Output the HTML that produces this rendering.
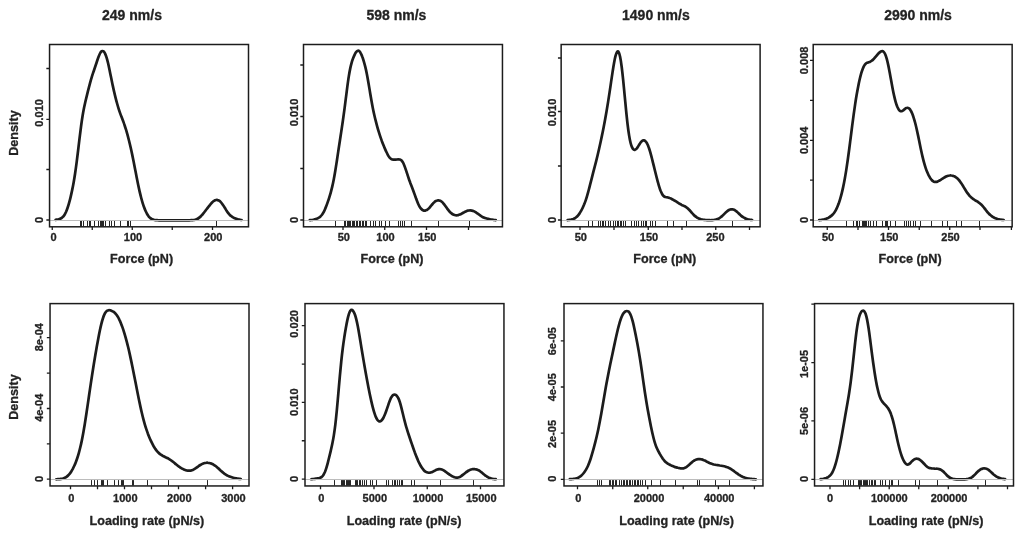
<!DOCTYPE html>
<html lang="en">
<head>
<meta charset="utf-8">
<title>Density of rupture force and loading rate at four retraction speeds</title>
<style>
  html, body { margin: 0; padding: 0; background: #ffffff; }
  body { width: 1024px; height: 539px; overflow: hidden; font-family: "Liberation Sans", sans-serif; }
  svg { display: block; will-change: transform; filter: grayscale(1) blur(0.35px); }
  text { font-family: "Liberation Sans", sans-serif; font-weight: bold; fill: #232323; stroke: #232323; stroke-width: 0.3px; stroke-linejoin: round; }
  .ti { font-size: 14px; }
  .lb { font-size: 12.6px; }
  .tk { font-size: 11px; }
</style>
</head>
<body>
<svg width="1024" height="539" viewBox="0 0 1024 539">
<rect x="0" y="0" width="1024" height="539" fill="#ffffff"/>
<g><path d="M80.5,221.00V226.40M81.5,221.00V226.40M83.5,221.00V226.40M87.5,221.00V226.40M89.5,221.00V226.40M90.5,221.00V226.40M94.5,221.00V226.40M98.5,221.00V226.40M100.5,221.00V226.40M101.5,221.00V226.40M102.5,221.00V226.40M103.5,221.00V226.40M105.5,221.00V226.40M109.5,221.00V226.40M111.5,221.00V226.40M114.5,221.00V226.40M120.5,221.00V226.40M127.5,221.00V226.40M128.5,221.00V226.40M130.5,221.00V226.40M216.5,221.00V226.40" stroke="#262626" stroke-width="1" fill="none"/>
<path d="M55.6,219.9C55.9,219.8 56.6,219.7 57.1,219.6C57.6,219.5 58.1,219.4 58.6,219.3C59.1,219.1 59.6,219.0 60.1,218.8C60.6,218.6 61.1,218.3 61.6,218.0C62.1,217.6 62.6,217.3 63.1,216.7C63.6,216.2 64.1,215.5 64.6,214.7C65.1,213.9 65.6,212.9 66.1,211.8C66.6,210.6 67.1,209.3 67.6,207.8C68.1,206.3 68.6,204.7 69.1,202.9C69.6,201.1 70.1,199.2 70.6,197.1C71.1,195.0 71.6,192.8 72.1,190.4C72.6,188.0 73.1,185.5 73.6,182.7C74.1,179.9 74.6,176.9 75.1,173.5C75.6,170.2 76.1,166.6 76.6,162.7C77.1,158.9 77.6,154.7 78.1,150.5C78.6,146.4 79.1,142.0 79.6,137.9C80.1,133.8 80.6,129.7 81.1,126.0C81.6,122.3 82.1,118.9 82.6,115.8C83.1,112.7 83.6,110.1 84.1,107.6C84.6,105.1 85.1,102.9 85.6,100.7C86.1,98.6 86.6,96.6 87.1,94.6C87.6,92.5 88.1,90.5 88.6,88.6C89.1,86.6 89.6,84.7 90.1,82.8C90.6,81.0 91.1,79.2 91.6,77.6C92.1,75.9 92.6,74.4 93.1,72.9C93.6,71.4 94.1,70.0 94.6,68.5C95.1,67.0 95.6,65.5 96.1,64.0C96.6,62.5 97.1,60.9 97.6,59.5C98.1,58.0 98.6,56.6 99.1,55.4C99.6,54.2 100.1,53.2 100.6,52.4C101.1,51.7 101.6,51.2 102.1,51.1C102.6,50.9 103.1,51.0 103.6,51.4C104.1,51.9 104.6,52.6 105.1,53.6C105.6,54.7 106.1,56.0 106.6,57.6C107.1,59.2 107.6,61.2 108.1,63.3C108.6,65.4 109.1,67.8 109.6,70.2C110.1,72.6 110.6,75.2 111.1,77.6C111.6,80.0 112.1,82.5 112.6,84.9C113.1,87.2 113.6,89.5 114.1,91.6C114.6,93.8 115.1,95.8 115.6,97.8C116.1,99.8 116.6,101.7 117.1,103.5C117.6,105.3 118.1,107.0 118.6,108.6C119.1,110.2 119.6,111.7 120.1,113.1C120.6,114.5 121.1,115.8 121.6,117.1C122.1,118.4 122.6,119.7 123.1,121.0C123.6,122.4 124.1,123.7 124.6,125.2C125.1,126.7 125.6,128.3 126.1,129.9C126.6,131.6 127.1,133.4 127.6,135.2C128.1,137.1 128.6,139.0 129.1,141.0C129.6,143.0 130.1,145.1 130.6,147.3C131.1,149.5 131.6,151.7 132.1,154.1C132.6,156.5 133.1,158.9 133.6,161.4C134.1,164.0 134.6,166.6 135.1,169.2C135.6,171.8 136.1,174.4 136.6,177.0C137.1,179.5 137.6,182.1 138.1,184.5C138.6,186.9 139.1,189.2 139.6,191.4C140.1,193.5 140.6,195.6 141.1,197.5C141.6,199.4 142.1,201.2 142.6,202.8C143.1,204.4 143.6,205.9 144.1,207.3C144.6,208.7 145.1,209.9 145.6,211.0C146.1,212.1 146.6,213.1 147.1,214.0C147.6,214.9 148.1,215.6 148.6,216.3C149.1,216.9 149.6,217.4 150.1,217.9C150.6,218.3 151.1,218.7 151.6,218.9C152.1,219.2 152.6,219.4 153.1,219.6C153.6,219.8 154.1,219.9 154.6,220.0C155.1,220.1 155.6,220.1 156.1,220.2C156.6,220.2 157.1,220.2 157.6,220.2C158.1,220.3 158.6,220.3 159.1,220.3C159.6,220.3 160.1,220.3 160.6,220.3C161.1,220.3 161.6,220.3 162.1,220.3C162.6,220.3 163.1,220.3 163.6,220.3C164.1,220.3 164.6,220.3 165.1,220.3C165.6,220.3 166.1,220.3 166.6,220.3C167.1,220.3 167.6,220.3 168.1,220.3C168.6,220.3 169.1,220.3 169.6,220.3C170.1,220.3 170.6,220.3 171.1,220.3C171.6,220.3 172.1,220.3 172.6,220.3C173.1,220.3 173.6,220.3 174.1,220.3C174.6,220.3 175.1,220.3 175.6,220.3C176.1,220.3 176.6,220.3 177.1,220.3C177.6,220.3 178.1,220.3 178.6,220.3C179.1,220.3 179.6,220.3 180.1,220.3C180.6,220.3 181.1,220.3 181.6,220.3C182.1,220.3 182.6,220.3 183.1,220.3C183.6,220.3 184.1,220.3 184.6,220.3C185.1,220.3 185.6,220.3 186.1,220.3C186.6,220.3 187.1,220.3 187.6,220.3C188.1,220.3 188.6,220.3 189.1,220.3C189.6,220.3 190.1,220.3 190.6,220.2C191.1,220.2 191.6,220.2 192.1,220.2C192.6,220.1 193.1,220.1 193.6,220.0C194.1,220.0 194.6,219.9 195.1,219.7C195.6,219.6 196.1,219.5 196.6,219.2C197.1,219.0 197.6,218.8 198.1,218.5C198.6,218.2 199.1,217.8 199.6,217.4C200.1,217.0 200.6,216.5 201.1,216.0C201.6,215.4 202.1,214.9 202.6,214.3C203.1,213.7 203.6,213.1 204.1,212.5C204.6,211.8 205.1,211.2 205.6,210.5C206.1,209.9 206.6,209.2 207.1,208.6C207.6,208.0 208.1,207.3 208.6,206.7C209.1,206.0 209.6,205.4 210.1,204.8C210.6,204.1 211.1,203.5 211.6,203.0C212.1,202.5 212.6,201.9 213.1,201.5C213.6,201.1 214.1,200.7 214.6,200.5C215.1,200.2 215.6,200.1 216.1,200.0C216.6,199.9 217.1,199.9 217.6,200.1C218.1,200.2 218.6,200.4 219.1,200.7C219.6,201.0 220.1,201.4 220.6,201.9C221.1,202.4 221.6,203.0 222.1,203.7C222.6,204.4 223.1,205.1 223.6,205.9C224.1,206.7 224.6,207.5 225.1,208.3C225.6,209.1 226.1,210.0 226.6,210.7C227.1,211.5 227.6,212.2 228.1,212.9C228.6,213.6 229.1,214.1 229.6,214.7C230.1,215.2 230.6,215.6 231.1,216.0C231.6,216.4 232.1,216.8 232.6,217.1C233.1,217.4 233.6,217.7 234.1,217.9C234.6,218.2 235.1,218.4 235.6,218.6C236.1,218.8 236.6,218.9 237.1,219.1C237.6,219.3 238.1,219.4 238.6,219.5C239.1,219.6 239.6,219.7 240.1,219.8C240.6,219.9 241.3,220.0 241.6,220.0" stroke="#1c1c1c" stroke-width="2.7" fill="none" stroke-linecap="round" stroke-linejoin="round"/>
<line x1="49.55" y1="220.50" x2="248.50" y2="220.50" stroke="#bcbcbc" stroke-width="1"/>
<rect x="49.55" y="44.50" width="198.95" height="182.30" fill="none" stroke="#1c1c1c" stroke-width="1.5"/>
<path d="M52.25,226.80V230.00M92.25,226.80V230.00M132.25,226.80V230.00M172.25,226.80V230.00M212.50,226.80V230.00M49.55,220.00H46.35M49.55,169.50H46.35M49.55,119.30H46.35M49.55,68.50H46.35" stroke="#1c1c1c" stroke-width="1.3" fill="none"/>
<text class="tk" x="53.45" y="241.40" text-anchor="middle">0</text>
<text class="tk" x="133.05" y="241.40" text-anchor="middle">100</text>
<text class="tk" x="213.30" y="241.40" text-anchor="middle">200</text>
<text class="tk" transform="translate(43.40,220.00) rotate(-90)" text-anchor="middle">0</text>
<text class="tk" transform="translate(43.40,112.90) rotate(-90)" text-anchor="middle">0.010</text>
<text class="ti" x="132.00" y="20.00" text-anchor="middle">249 nm/s</text>
<text class="lb" x="141.60" y="263.00" text-anchor="middle">Force (pN)</text>
<text class="lb" transform="translate(18.20,133.00) rotate(-90)" text-anchor="middle">Density</text></g>
<g><path d="M335.5,221.00V226.40M344.5,221.00V226.40M345.5,221.00V226.40M347.5,221.00V226.40M348.5,221.00V226.40M349.5,221.00V226.40M350.5,221.00V226.40M352.5,221.00V226.40M353.5,221.00V226.40M354.5,221.00V226.40M356.5,221.00V226.40M357.5,221.00V226.40M359.5,221.00V226.40M360.5,221.00V226.40M362.5,221.00V226.40M363.5,221.00V226.40M365.5,221.00V226.40M366.5,221.00V226.40M370.5,221.00V226.40M373.5,221.00V226.40M375.5,221.00V226.40M379.5,221.00V226.40M381.5,221.00V226.40M385.5,221.00V226.40M389.5,221.00V226.40M398.5,221.00V226.40M400.5,221.00V226.40M402.5,221.00V226.40M404.5,221.00V226.40M411.5,221.00V226.40M438.5,221.00V226.40M469.5,221.00V226.40" stroke="#262626" stroke-width="1" fill="none"/>
<path d="M309.8,220.1C310.1,220.1 310.8,220.0 311.3,220.0C311.8,219.9 312.3,219.8 312.8,219.8C313.3,219.7 313.8,219.6 314.3,219.4C314.8,219.3 315.3,219.2 315.8,219.0C316.3,218.9 316.8,218.7 317.3,218.5C317.8,218.2 318.3,218.0 318.8,217.7C319.3,217.4 319.8,217.1 320.3,216.6C320.8,216.2 321.3,215.6 321.8,215.0C322.3,214.4 322.8,213.6 323.3,212.7C323.8,211.9 324.3,210.9 324.8,209.7C325.3,208.6 325.8,207.4 326.3,206.1C326.8,204.8 327.3,203.4 327.8,201.9C328.3,200.5 328.8,199.0 329.3,197.3C329.8,195.7 330.3,194.1 330.8,192.3C331.3,190.4 331.8,188.5 332.3,186.4C332.8,184.2 333.3,181.8 333.8,179.2C334.3,176.6 334.8,173.8 335.3,170.7C335.8,167.7 336.3,164.4 336.8,161.2C337.3,157.9 337.8,154.4 338.3,151.1C338.8,147.8 339.3,144.4 339.8,141.2C340.3,137.9 340.8,134.7 341.3,131.4C341.8,128.1 342.3,124.8 342.8,121.3C343.3,117.8 343.8,114.2 344.3,110.4C344.8,106.6 345.3,102.6 345.8,98.7C346.3,94.7 346.8,90.6 347.3,86.9C347.8,83.2 348.3,79.5 348.8,76.4C349.3,73.3 349.8,70.5 350.3,68.1C350.8,65.8 351.3,63.9 351.8,62.1C352.3,60.4 352.8,59.1 353.3,57.8C353.8,56.5 354.3,55.4 354.8,54.4C355.3,53.4 355.8,52.5 356.3,51.9C356.8,51.3 357.3,50.8 357.8,50.7C358.3,50.5 358.8,50.7 359.3,51.1C359.8,51.6 360.3,52.3 360.8,53.3C361.3,54.2 361.8,55.4 362.3,56.8C362.8,58.1 363.3,59.6 363.8,61.3C364.3,63.0 364.8,64.8 365.3,66.9C365.8,68.9 366.3,71.2 366.8,73.7C367.3,76.2 367.8,79.0 368.3,81.9C368.8,84.8 369.3,87.9 369.8,90.9C370.3,93.9 370.8,97.0 371.3,99.8C371.8,102.7 372.3,105.4 372.8,108.0C373.3,110.5 373.8,112.8 374.3,115.0C374.8,117.2 375.3,119.3 375.8,121.2C376.3,123.2 376.8,125.0 377.3,126.8C377.8,128.6 378.3,130.3 378.8,131.9C379.3,133.6 379.8,135.1 380.3,136.6C380.8,138.1 381.3,139.5 381.8,140.9C382.3,142.2 382.8,143.5 383.3,144.7C383.8,146.0 384.3,147.2 384.8,148.4C385.3,149.5 385.8,150.7 386.3,151.8C386.8,152.9 387.3,153.9 387.8,154.8C388.3,155.7 388.8,156.6 389.3,157.2C389.8,157.9 390.3,158.4 390.8,158.7C391.3,159.1 391.8,159.3 392.3,159.5C392.8,159.6 393.3,159.7 393.8,159.7C394.3,159.7 394.8,159.7 395.3,159.6C395.8,159.6 396.3,159.5 396.8,159.5C397.3,159.4 397.8,159.4 398.3,159.4C398.8,159.4 399.3,159.4 399.8,159.5C400.3,159.7 400.8,159.9 401.3,160.3C401.8,160.8 402.3,161.4 402.8,162.2C403.3,163.1 403.8,164.2 404.3,165.4C404.8,166.6 405.3,168.1 405.8,169.6C406.3,171.1 406.8,172.7 407.3,174.2C407.8,175.8 408.3,177.3 408.8,178.7C409.3,180.2 409.8,181.5 410.3,182.9C410.8,184.2 411.3,185.5 411.8,186.8C412.3,188.1 412.8,189.4 413.3,190.7C413.8,192.1 414.3,193.5 414.8,194.9C415.3,196.3 415.8,197.7 416.3,199.1C416.8,200.4 417.3,201.8 417.8,202.9C418.3,204.1 418.8,205.2 419.3,206.1C419.8,207.0 420.3,207.8 420.8,208.4C421.3,209.1 421.8,209.5 422.3,209.9C422.8,210.3 423.3,210.5 423.8,210.6C424.3,210.7 424.8,210.7 425.3,210.6C425.8,210.5 426.3,210.3 426.8,210.1C427.3,209.8 427.8,209.4 428.3,208.9C428.8,208.4 429.3,207.9 429.8,207.3C430.3,206.7 430.8,206.1 431.3,205.5C431.8,204.9 432.3,204.2 432.8,203.7C433.3,203.1 433.8,202.6 434.3,202.2C434.8,201.7 435.3,201.3 435.8,201.1C436.3,200.8 436.8,200.6 437.3,200.5C437.8,200.3 438.3,200.3 438.8,200.4C439.3,200.4 439.8,200.5 440.3,200.8C440.8,201.0 441.3,201.4 441.8,201.8C442.3,202.2 442.8,202.7 443.3,203.3C443.8,203.9 444.3,204.5 444.8,205.2C445.3,205.9 445.8,206.6 446.3,207.3C446.8,208.0 447.3,208.8 447.8,209.4C448.3,210.1 448.8,210.7 449.3,211.3C449.8,211.8 450.3,212.4 450.8,212.8C451.3,213.3 451.8,213.7 452.3,214.0C452.8,214.3 453.3,214.6 453.8,214.8C454.3,215.0 454.8,215.2 455.3,215.3C455.8,215.4 456.3,215.4 456.8,215.4C457.3,215.4 457.8,215.3 458.3,215.1C458.8,215.0 459.3,214.8 459.8,214.6C460.3,214.4 460.8,214.2 461.3,213.9C461.8,213.6 462.3,213.3 462.8,213.0C463.3,212.7 463.8,212.4 464.3,212.2C464.8,211.9 465.3,211.6 465.8,211.4C466.3,211.2 466.8,211.0 467.3,210.8C467.8,210.7 468.3,210.5 468.8,210.5C469.3,210.4 469.8,210.4 470.3,210.4C470.8,210.4 471.3,210.5 471.8,210.6C472.3,210.7 472.8,210.8 473.3,211.0C473.8,211.2 474.3,211.4 474.8,211.7C475.3,211.9 475.8,212.2 476.3,212.6C476.8,212.9 477.3,213.3 477.8,213.7C478.3,214.0 478.8,214.4 479.3,214.8C479.8,215.2 480.3,215.6 480.8,215.9C481.3,216.2 481.8,216.5 482.3,216.8C482.8,217.1 483.3,217.3 483.8,217.5C484.3,217.8 484.8,217.9 485.3,218.1C485.8,218.3 486.3,218.4 486.8,218.5C487.3,218.7 487.8,218.8 488.3,218.9C488.8,219.0 489.3,219.1 489.8,219.2C490.3,219.4 490.8,219.5 491.3,219.5C491.8,219.6 492.3,219.7 492.8,219.8C493.3,219.9 493.8,219.9 494.3,220.0C494.8,220.0 495.6,220.1 495.8,220.1" stroke="#1c1c1c" stroke-width="2.7" fill="none" stroke-linecap="round" stroke-linejoin="round"/>
<line x1="303.50" y1="220.50" x2="502.45" y2="220.50" stroke="#bcbcbc" stroke-width="1"/>
<rect x="303.50" y="44.50" width="198.95" height="182.30" fill="none" stroke="#1c1c1c" stroke-width="1.5"/>
<path d="M343.00,226.80V230.00M384.75,226.80V230.00M426.50,226.80V230.00M468.50,226.80V230.00M303.50,220.00H300.30M303.50,168.50H300.30M303.50,116.50H300.30M303.50,65.00H300.30" stroke="#1c1c1c" stroke-width="1.3" fill="none"/>
<text class="tk" x="343.80" y="241.40" text-anchor="middle">50</text>
<text class="tk" x="385.55" y="241.40" text-anchor="middle">100</text>
<text class="tk" x="427.30" y="241.40" text-anchor="middle">150</text>
<text class="tk" transform="translate(297.65,220.00) rotate(-90)" text-anchor="middle">0</text>
<text class="tk" transform="translate(297.65,112.50) rotate(-90)" text-anchor="middle">0.010</text>
<text class="ti" x="396.40" y="20.00" text-anchor="middle">598 nm/s</text>
<text class="lb" x="392.00" y="263.00" text-anchor="middle">Force (pN)</text></g>
<g><path d="M588.5,221.00V226.40M592.5,221.00V226.40M598.5,221.00V226.40M600.5,221.00V226.40M602.5,221.00V226.40M603.5,221.00V226.40M605.5,221.00V226.40M608.5,221.00V226.40M610.5,221.00V226.40M631.5,221.00V226.40M634.5,221.00V226.40M636.5,221.00V226.40M638.5,221.00V226.40M641.5,221.00V226.40M643.5,221.00V226.40M645.5,221.00V226.40M646.5,221.00V226.40M650.5,221.00V226.40M652.5,221.00V226.40M655.5,221.00V226.40M667.5,221.00V226.40M673.5,221.00V226.40M686.5,221.00V226.40M732.5,221.00V226.40M613.5,221.00V226.40M615.5,221.00V226.40M617.5,221.00V226.40M618.5,221.00V226.40M620.5,221.00V226.40M621.5,221.00V226.40M623.5,221.00V226.40M625.5,221.00V226.40" stroke="#262626" stroke-width="1" fill="none"/>
<path d="M567.6,220.1C567.9,220.0 568.6,220.0 569.1,219.9C569.6,219.9 570.1,219.8 570.6,219.7C571.1,219.6 571.6,219.5 572.1,219.4C572.6,219.2 573.1,219.1 573.6,218.8C574.1,218.6 574.6,218.4 575.1,218.1C575.6,217.8 576.1,217.4 576.6,216.9C577.1,216.5 577.6,216.0 578.1,215.4C578.6,214.8 579.1,214.1 579.6,213.4C580.1,212.6 580.6,211.8 581.1,210.9C581.6,210.0 582.1,209.1 582.6,208.0C583.1,206.9 583.6,205.8 584.1,204.6C584.6,203.3 585.1,202.0 585.6,200.6C586.1,199.1 586.6,197.5 587.1,195.8C587.6,194.2 588.1,192.3 588.6,190.5C589.1,188.6 589.6,186.6 590.1,184.7C590.6,182.7 591.1,180.7 591.6,178.8C592.1,176.8 592.6,174.9 593.1,172.9C593.6,171.0 594.1,169.1 594.6,167.2C595.1,165.3 595.6,163.4 596.1,161.4C596.6,159.4 597.1,157.4 597.6,155.3C598.1,153.2 598.6,151.0 599.1,148.8C599.6,146.6 600.1,144.3 600.6,142.0C601.1,139.7 601.6,137.3 602.1,134.9C602.6,132.4 603.1,130.0 603.6,127.4C604.1,124.9 604.6,122.3 605.1,119.5C605.6,116.8 606.1,114.0 606.6,111.1C607.1,108.1 607.6,105.1 608.1,101.9C608.6,98.7 609.1,95.4 609.6,92.1C610.1,88.8 610.6,85.3 611.1,81.9C611.6,78.6 612.1,75.1 612.6,71.9C613.1,68.7 613.6,65.4 614.1,62.7C614.6,60.0 615.1,57.5 615.6,55.7C616.1,53.8 616.6,52.4 617.1,51.8C617.6,51.2 618.1,51.1 618.6,52.0C619.1,52.8 619.6,54.4 620.1,56.8C620.6,59.2 621.1,62.4 621.6,66.2C622.1,69.9 622.6,74.6 623.1,79.3C623.6,84.1 624.1,89.6 624.6,94.8C625.1,99.9 625.6,105.5 626.1,110.5C626.6,115.4 627.1,120.3 627.6,124.5C628.1,128.6 628.6,132.3 629.1,135.4C629.6,138.5 630.1,141.0 630.6,143.0C631.1,145.0 631.6,146.3 632.1,147.4C632.6,148.5 633.1,149.1 633.6,149.5C634.1,149.9 634.6,149.9 635.1,149.7C635.6,149.6 636.1,149.1 636.6,148.6C637.1,148.0 637.6,147.2 638.1,146.5C638.6,145.7 639.1,144.8 639.6,144.1C640.1,143.3 640.6,142.5 641.1,141.9C641.6,141.4 642.1,140.9 642.6,140.6C643.1,140.4 643.6,140.3 644.1,140.4C644.6,140.5 645.1,140.8 645.6,141.4C646.1,141.9 646.6,142.6 647.1,143.5C647.6,144.5 648.1,145.6 648.6,147.0C649.1,148.3 649.6,149.9 650.1,151.6C650.6,153.3 651.1,155.2 651.6,157.1C652.1,159.0 652.6,161.1 653.1,163.1C653.6,165.1 654.1,167.2 654.6,169.2C655.1,171.3 655.6,173.3 656.1,175.3C656.6,177.3 657.1,179.2 657.6,181.1C658.1,182.9 658.6,184.7 659.1,186.3C659.6,187.9 660.1,189.5 660.6,190.8C661.1,192.0 661.6,193.1 662.1,194.0C662.6,194.9 663.1,195.5 663.6,196.0C664.1,196.5 664.6,196.7 665.1,196.9C665.6,197.2 666.1,197.2 666.6,197.3C667.1,197.4 667.6,197.4 668.1,197.5C668.6,197.6 669.1,197.8 669.6,198.0C670.1,198.1 670.6,198.4 671.1,198.6C671.6,198.9 672.1,199.2 672.6,199.5C673.1,199.7 673.6,200.0 674.1,200.3C674.6,200.6 675.1,200.9 675.6,201.2C676.1,201.5 676.6,201.8 677.1,202.2C677.6,202.5 678.1,202.8 678.6,203.1C679.1,203.4 679.6,203.8 680.1,204.1C680.6,204.3 681.1,204.6 681.6,204.9C682.1,205.1 682.6,205.3 683.1,205.6C683.6,205.8 684.1,206.0 684.6,206.3C685.1,206.5 685.6,206.8 686.1,207.1C686.6,207.4 687.1,207.8 687.6,208.2C688.1,208.7 688.6,209.2 689.1,209.7C689.6,210.2 690.1,210.8 690.6,211.3C691.1,211.9 691.6,212.5 692.1,213.1C692.6,213.6 693.1,214.2 693.6,214.7C694.1,215.2 694.6,215.7 695.1,216.1C695.6,216.5 696.1,216.9 696.6,217.2C697.1,217.6 697.6,217.9 698.1,218.1C698.6,218.4 699.1,218.6 699.6,218.8C700.1,219.0 700.6,219.1 701.1,219.3C701.6,219.4 702.1,219.5 702.6,219.6C703.1,219.7 703.6,219.8 704.1,219.9C704.6,219.9 705.1,220.0 705.6,220.0C706.1,220.1 706.6,220.1 707.1,220.1C707.6,220.2 708.1,220.2 708.6,220.2C709.1,220.2 709.6,220.2 710.1,220.2C710.6,220.1 711.1,220.1 711.6,220.1C712.1,220.1 712.6,220.0 713.1,220.0C713.6,220.0 714.1,219.9 714.6,219.8C715.1,219.7 715.6,219.7 716.1,219.5C716.6,219.4 717.1,219.2 717.6,219.0C718.1,218.8 718.6,218.6 719.1,218.3C719.6,218.0 720.1,217.7 720.6,217.3C721.1,216.9 721.6,216.5 722.1,216.0C722.6,215.6 723.1,215.1 723.6,214.6C724.1,214.1 724.6,213.6 725.1,213.1C725.6,212.6 726.1,212.1 726.6,211.7C727.1,211.3 727.6,210.9 728.1,210.5C728.6,210.2 729.1,209.9 729.6,209.7C730.1,209.5 730.6,209.4 731.1,209.3C731.6,209.3 732.1,209.3 732.6,209.3C733.1,209.4 733.6,209.6 734.1,209.8C734.6,210.0 735.1,210.4 735.6,210.7C736.1,211.1 736.6,211.5 737.1,211.9C737.6,212.4 738.1,212.9 738.6,213.4C739.1,213.8 739.6,214.3 740.1,214.8C740.6,215.2 741.1,215.7 741.6,216.1C742.1,216.5 742.6,216.9 743.1,217.2C743.6,217.5 744.1,217.8 744.6,218.0C745.1,218.3 745.6,218.5 746.1,218.7C746.6,218.9 747.1,219.1 747.6,219.2C748.1,219.4 748.6,219.5 749.1,219.6C749.6,219.7 750.1,219.8 750.6,219.9C751.1,219.9 751.9,220.0 752.1,220.0" stroke="#1c1c1c" stroke-width="2.7" fill="none" stroke-linecap="round" stroke-linejoin="round"/>
<line x1="561.15" y1="220.50" x2="760.10" y2="220.50" stroke="#bcbcbc" stroke-width="1"/>
<rect x="561.15" y="44.50" width="198.95" height="182.30" fill="none" stroke="#1c1c1c" stroke-width="1.5"/>
<path d="M580.00,226.80V230.00M614.00,226.80V230.00M648.25,226.80V230.00M682.00,226.80V230.00M715.75,226.80V230.00M749.50,226.80V230.00M561.15,220.00H557.95M561.15,166.00H557.95M561.15,111.50H557.95M561.15,58.00H557.95" stroke="#1c1c1c" stroke-width="1.3" fill="none"/>
<text class="tk" x="580.80" y="241.40" text-anchor="middle">50</text>
<text class="tk" x="649.05" y="241.40" text-anchor="middle">150</text>
<text class="tk" x="715.35" y="241.40" text-anchor="middle">250</text>
<text class="tk" transform="translate(555.65,220.00) rotate(-90)" text-anchor="middle">0</text>
<text class="tk" transform="translate(555.65,112.50) rotate(-90)" text-anchor="middle">0.010</text>
<text class="ti" x="655.90" y="20.00" text-anchor="middle">1490 nm/s</text>
<text class="lb" x="664.75" y="263.00" text-anchor="middle">Force (pN)</text></g>
<g><path d="M846.5,221.00V226.40M853.5,221.00V226.40M856.5,221.00V226.40M857.5,221.00V226.40M859.5,221.00V226.40M862.5,221.00V226.40M863.5,221.00V226.40M864.5,221.00V226.40M865.5,221.00V226.40M866.5,221.00V226.40M868.5,221.00V226.40M870.5,221.00V226.40M873.5,221.00V226.40M876.5,221.00V226.40M882.5,221.00V226.40M885.5,221.00V226.40M886.5,221.00V226.40M887.5,221.00V226.40M890.5,221.00V226.40M895.5,221.00V226.40M904.5,221.00V226.40M906.5,221.00V226.40M908.5,221.00V226.40M910.5,221.00V226.40M913.5,221.00V226.40M915.5,221.00V226.40M920.5,221.00V226.40M931.5,221.00V226.40M942.5,221.00V226.40M947.5,221.00V226.40M956.5,221.00V226.40M961.5,221.00V226.40M979.5,221.00V226.40" stroke="#262626" stroke-width="1" fill="none"/>
<path d="M819.2,220.1C819.5,220.1 820.2,220.1 820.7,220.0C821.2,219.9 821.7,219.9 822.2,219.8C822.7,219.7 823.2,219.6 823.7,219.5C824.2,219.4 824.7,219.3 825.2,219.1C825.7,218.9 826.2,218.8 826.7,218.5C827.2,218.3 827.7,218.1 828.2,217.9C828.7,217.6 829.2,217.3 829.7,217.0C830.2,216.7 830.7,216.3 831.2,215.9C831.7,215.5 832.2,215.0 832.7,214.5C833.2,214.0 833.7,213.4 834.2,212.7C834.7,212.0 835.2,211.2 835.7,210.3C836.2,209.4 836.7,208.5 837.2,207.3C837.7,206.2 838.2,204.9 838.7,203.6C839.2,202.2 839.7,200.6 840.2,198.9C840.7,197.2 841.2,195.4 841.7,193.4C842.2,191.4 842.7,189.2 843.2,186.9C843.7,184.5 844.2,182.0 844.7,179.2C845.2,176.5 845.7,173.5 846.2,170.4C846.7,167.2 847.2,163.8 847.7,160.3C848.2,156.8 848.7,153.0 849.2,149.2C849.7,145.4 850.2,141.4 850.7,137.5C851.2,133.6 851.7,129.5 852.2,125.7C852.7,121.8 853.2,118.0 853.7,114.4C854.2,110.7 854.7,107.2 855.2,103.9C855.7,100.6 856.2,97.5 856.7,94.6C857.2,91.7 857.7,88.9 858.2,86.4C858.7,83.8 859.2,81.5 859.7,79.3C860.2,77.2 860.7,75.2 861.2,73.4C861.7,71.7 862.2,70.2 862.7,68.9C863.2,67.6 863.7,66.5 864.2,65.6C864.7,64.8 865.2,64.2 865.7,63.7C866.2,63.2 866.7,63.0 867.2,62.7C867.7,62.5 868.2,62.4 868.7,62.2C869.2,62.0 869.7,61.9 870.2,61.7C870.7,61.4 871.2,61.2 871.7,60.8C872.2,60.4 872.7,60.0 873.2,59.5C873.7,59.0 874.2,58.4 874.7,57.8C875.2,57.3 875.7,56.7 876.2,56.1C876.7,55.5 877.2,54.9 877.7,54.3C878.2,53.8 878.7,53.3 879.2,52.8C879.7,52.4 880.2,51.9 880.7,51.6C881.2,51.4 881.7,51.1 882.2,51.2C882.7,51.2 883.2,51.4 883.7,51.9C884.2,52.4 884.7,53.1 885.2,54.2C885.7,55.4 886.2,56.8 886.7,58.6C887.2,60.4 887.7,62.5 888.2,64.9C888.7,67.2 889.2,69.9 889.7,72.5C890.2,75.2 890.7,78.1 891.2,80.8C891.7,83.6 892.2,86.4 892.7,88.9C893.2,91.5 893.7,93.9 894.2,96.1C894.7,98.3 895.2,100.3 895.7,102.1C896.2,103.8 896.7,105.3 897.2,106.6C897.7,107.8 898.2,108.8 898.7,109.5C899.2,110.3 899.7,110.8 900.2,111.0C900.7,111.3 901.2,111.3 901.7,111.2C902.2,111.1 902.7,110.7 903.2,110.4C903.7,110.0 904.2,109.5 904.7,109.1C905.2,108.7 905.7,108.3 906.2,108.1C906.7,107.8 907.2,107.7 907.7,107.8C908.2,107.8 908.7,108.1 909.2,108.5C909.7,109.0 910.2,109.6 910.7,110.5C911.2,111.3 911.7,112.4 912.2,113.6C912.7,114.8 913.2,116.2 913.7,117.8C914.2,119.3 914.7,121.1 915.2,123.0C915.7,124.9 916.2,127.0 916.7,129.2C917.2,131.4 917.7,133.7 918.2,136.1C918.7,138.5 919.2,141.0 919.7,143.4C920.2,145.9 920.7,148.4 921.2,150.7C921.7,153.0 922.2,155.3 922.7,157.4C923.2,159.5 923.7,161.4 924.2,163.2C924.7,165.0 925.2,166.6 925.7,168.1C926.2,169.6 926.7,170.9 927.2,172.1C927.7,173.3 928.2,174.4 928.7,175.4C929.2,176.3 929.7,177.2 930.2,178.0C930.7,178.7 931.2,179.4 931.7,180.0C932.2,180.5 932.7,180.9 933.2,181.3C933.7,181.6 934.2,181.8 934.7,181.9C935.2,182.0 935.7,182.0 936.2,181.9C936.7,181.9 937.2,181.7 937.7,181.5C938.2,181.3 938.7,181.0 939.2,180.7C939.7,180.5 940.2,180.1 940.7,179.8C941.2,179.5 941.7,179.2 942.2,178.8C942.7,178.5 943.2,178.2 943.7,177.9C944.2,177.6 944.7,177.3 945.2,177.0C945.7,176.7 946.2,176.4 946.7,176.2C947.2,176.0 947.7,175.8 948.2,175.7C948.7,175.6 949.2,175.5 949.7,175.5C950.2,175.4 950.7,175.4 951.2,175.5C951.7,175.5 952.2,175.6 952.7,175.7C953.2,175.9 953.7,176.0 954.2,176.2C954.7,176.5 955.2,176.7 955.7,177.1C956.2,177.4 956.7,177.8 957.2,178.2C957.7,178.7 958.2,179.2 958.7,179.8C959.2,180.3 959.7,181.0 960.2,181.7C960.7,182.4 961.2,183.1 961.7,183.9C962.2,184.7 962.7,185.5 963.2,186.3C963.7,187.2 964.2,188.0 964.7,188.8C965.2,189.6 965.7,190.4 966.2,191.2C966.7,192.0 967.2,192.7 967.7,193.4C968.2,194.1 968.7,194.7 969.2,195.3C969.7,195.9 970.2,196.4 970.7,196.9C971.2,197.4 971.7,197.8 972.2,198.2C972.7,198.6 973.2,199.0 973.7,199.3C974.2,199.7 974.7,200.0 975.2,200.3C975.7,200.6 976.2,200.8 976.7,201.1C977.2,201.4 977.7,201.7 978.2,202.1C978.7,202.4 979.2,202.8 979.7,203.2C980.2,203.6 980.7,204.0 981.2,204.5C981.7,205.0 982.2,205.5 982.7,206.1C983.2,206.7 983.7,207.3 984.2,207.9C984.7,208.6 985.2,209.2 985.7,209.9C986.2,210.5 986.7,211.2 987.2,211.8C987.7,212.4 988.2,212.9 988.7,213.5C989.2,214.0 989.7,214.5 990.2,214.9C990.7,215.4 991.2,215.8 991.7,216.1C992.2,216.5 992.7,216.8 993.2,217.1C993.7,217.4 994.2,217.6 994.7,217.9C995.2,218.1 995.7,218.3 996.2,218.5C996.7,218.7 997.2,218.8 997.7,219.0C998.2,219.1 998.7,219.2 999.2,219.4C999.7,219.5 1000.2,219.6 1000.7,219.7C1001.2,219.7 1001.7,219.8 1002.2,219.9C1002.7,219.9 1003.5,220.0 1003.7,220.0" stroke="#1c1c1c" stroke-width="2.7" fill="none" stroke-linecap="round" stroke-linejoin="round"/>
<line x1="813.20" y1="220.50" x2="1012.15" y2="220.50" stroke="#bcbcbc" stroke-width="1"/>
<rect x="813.20" y="44.50" width="198.95" height="182.30" fill="none" stroke="#1c1c1c" stroke-width="1.5"/>
<path d="M827.25,226.80V230.00M858.00,226.80V230.00M888.50,226.80V230.00M919.25,226.80V230.00M949.75,226.80V230.00M980.00,226.80V230.00M1011.40,226.80V230.00M813.20,220.00H810.00M813.20,180.20H810.00M813.20,140.30H810.00M813.20,100.40H810.00M813.20,60.40H810.00" stroke="#1c1c1c" stroke-width="1.3" fill="none"/>
<text class="tk" x="828.05" y="241.40" text-anchor="middle">50</text>
<text class="tk" x="889.30" y="241.40" text-anchor="middle">150</text>
<text class="tk" x="950.55" y="241.40" text-anchor="middle">250</text>
<text class="tk" transform="translate(807.65,220.00) rotate(-90)" text-anchor="middle">0</text>
<text class="tk" transform="translate(807.65,140.30) rotate(-90)" text-anchor="middle">0.004</text>
<text class="tk" transform="translate(807.65,60.40) rotate(-90)" text-anchor="middle">0.008</text>
<text class="ti" x="918.00" y="20.00" text-anchor="middle">2990 nm/s</text>
<text class="lb" x="910.10" y="263.00" text-anchor="middle">Force (pN)</text></g>
<g><path d="M91.5,480.10V485.55M94.5,480.10V485.55M97.5,480.10V485.55M101.5,480.10V485.55M102.5,480.10V485.55M103.5,480.10V485.55M107.5,480.10V485.55M114.5,480.10V485.55M118.5,480.10V485.55M121.5,480.10V485.55M122.5,480.10V485.55M123.5,480.10V485.55M132.5,480.10V485.55M133.5,480.10V485.55M147.5,480.10V485.55M168.5,480.10V485.55M207.5,480.10V485.55" stroke="#262626" stroke-width="1" fill="none"/>
<path d="M56.3,479.3C56.5,479.3 57.3,479.2 57.8,479.2C58.3,479.2 58.8,479.2 59.3,479.1C59.8,479.1 60.3,479.0 60.8,478.9C61.3,478.9 61.8,478.8 62.3,478.7C62.8,478.5 63.3,478.4 63.8,478.2C64.3,478.0 64.8,477.8 65.3,477.6C65.8,477.3 66.3,477.0 66.8,476.6C67.3,476.2 67.8,475.8 68.3,475.3C68.8,474.8 69.3,474.2 69.8,473.6C70.3,473.0 70.8,472.3 71.3,471.5C71.8,470.7 72.3,469.8 72.8,468.9C73.3,467.9 73.8,466.9 74.3,465.8C74.8,464.7 75.3,463.5 75.8,462.2C76.3,460.9 76.8,459.5 77.3,458.0C77.8,456.5 78.3,454.9 78.8,453.1C79.3,451.3 79.8,449.4 80.3,447.3C80.8,445.3 81.3,443.0 81.8,440.6C82.3,438.2 82.8,435.6 83.3,432.8C83.8,430.0 84.3,427.0 84.8,424.0C85.3,420.9 85.8,417.6 86.3,414.3C86.8,411.0 87.3,407.6 87.8,404.1C88.3,400.7 88.8,397.2 89.3,393.8C89.8,390.4 90.3,386.9 90.8,383.6C91.3,380.3 91.8,377.0 92.3,373.7C92.8,370.5 93.3,367.4 93.8,364.3C94.3,361.2 94.8,358.2 95.3,355.3C95.8,352.3 96.3,349.5 96.8,346.6C97.3,343.8 97.8,341.1 98.3,338.4C98.8,335.8 99.3,333.2 99.8,330.8C100.3,328.4 100.8,326.1 101.3,324.1C101.8,322.1 102.3,320.2 102.8,318.7C103.3,317.1 103.8,315.7 104.3,314.6C104.8,313.5 105.3,312.7 105.8,312.0C106.3,311.4 106.8,311.0 107.3,310.7C107.8,310.4 108.3,310.3 108.8,310.2C109.3,310.2 109.8,310.2 110.3,310.3C110.8,310.5 111.3,310.6 111.8,310.9C112.3,311.1 112.8,311.3 113.3,311.7C113.8,312.0 114.3,312.4 114.8,312.9C115.3,313.3 115.8,313.9 116.3,314.5C116.8,315.2 117.3,315.9 117.8,316.7C118.3,317.6 118.8,318.5 119.3,319.6C119.8,320.6 120.3,321.7 120.8,322.9C121.3,324.2 121.8,325.5 122.3,326.9C122.8,328.3 123.3,329.7 123.8,331.3C124.3,332.9 124.8,334.5 125.3,336.3C125.8,338.0 126.3,339.9 126.8,341.8C127.3,343.7 127.8,345.7 128.3,347.8C128.8,349.9 129.3,352.1 129.8,354.4C130.3,356.7 130.8,359.0 131.3,361.4C131.8,363.8 132.3,366.2 132.8,368.7C133.3,371.2 133.8,373.7 134.3,376.2C134.8,378.7 135.3,381.3 135.8,383.8C136.3,386.4 136.8,389.0 137.3,391.5C137.8,394.0 138.3,396.5 138.8,398.9C139.3,401.4 139.8,403.8 140.3,406.1C140.8,408.4 141.3,410.7 141.8,412.8C142.3,414.9 142.8,417.0 143.3,418.9C143.8,420.8 144.3,422.6 144.8,424.3C145.3,426.0 145.8,427.6 146.3,429.1C146.8,430.6 147.3,432.0 147.8,433.4C148.3,434.7 148.8,436.0 149.3,437.2C149.8,438.4 150.3,439.5 150.8,440.6C151.3,441.7 151.8,442.7 152.3,443.7C152.8,444.7 153.3,445.6 153.8,446.5C154.3,447.3 154.8,448.1 155.3,448.9C155.8,449.6 156.3,450.3 156.8,450.9C157.3,451.5 157.8,452.0 158.3,452.5C158.8,453.0 159.3,453.5 159.8,453.9C160.3,454.3 160.8,454.6 161.3,454.9C161.8,455.3 162.3,455.5 162.8,455.8C163.3,456.1 163.8,456.3 164.3,456.6C164.8,456.8 165.3,457.1 165.8,457.3C166.3,457.6 166.8,457.8 167.3,458.1C167.8,458.3 168.3,458.6 168.8,458.9C169.3,459.2 169.8,459.5 170.3,459.8C170.8,460.1 171.3,460.5 171.8,460.9C172.3,461.2 172.8,461.6 173.3,462.0C173.8,462.4 174.3,462.8 174.8,463.2C175.3,463.7 175.8,464.1 176.3,464.5C176.8,464.9 177.3,465.3 177.8,465.7C178.3,466.1 178.8,466.5 179.3,466.8C179.8,467.2 180.3,467.5 180.8,467.9C181.3,468.2 181.8,468.5 182.3,468.7C182.8,469.0 183.3,469.3 183.8,469.5C184.3,469.7 184.8,469.9 185.3,470.1C185.8,470.2 186.3,470.4 186.8,470.5C187.3,470.6 187.8,470.7 188.3,470.7C188.8,470.7 189.3,470.7 189.8,470.7C190.3,470.7 190.8,470.6 191.3,470.4C191.8,470.3 192.3,470.1 192.8,469.9C193.3,469.7 193.8,469.4 194.3,469.1C194.8,468.8 195.3,468.5 195.8,468.2C196.3,467.8 196.8,467.5 197.3,467.1C197.8,466.7 198.3,466.4 198.8,466.0C199.3,465.6 199.8,465.3 200.3,465.0C200.8,464.7 201.3,464.4 201.8,464.1C202.3,463.8 202.8,463.6 203.3,463.4C203.8,463.2 204.3,463.1 204.8,463.0C205.3,462.9 205.8,462.8 206.3,462.8C206.8,462.7 207.3,462.7 207.8,462.8C208.3,462.8 208.8,462.9 209.3,463.0C209.8,463.1 210.3,463.2 210.8,463.4C211.3,463.5 211.8,463.8 212.3,464.0C212.8,464.2 213.3,464.5 213.8,464.8C214.3,465.1 214.8,465.5 215.3,465.8C215.8,466.2 216.3,466.6 216.8,467.0C217.3,467.4 217.8,467.9 218.3,468.3C218.8,468.8 219.3,469.3 219.8,469.7C220.3,470.2 220.8,470.6 221.3,471.1C221.8,471.5 222.3,472.0 222.8,472.4C223.3,472.8 223.8,473.2 224.3,473.6C224.8,473.9 225.3,474.3 225.8,474.6C226.3,474.9 226.8,475.2 227.3,475.5C227.8,475.7 228.3,476.0 228.8,476.2C229.3,476.4 229.8,476.6 230.3,476.8C230.8,477.0 231.3,477.2 231.8,477.3C232.3,477.5 232.8,477.6 233.3,477.7C233.8,477.9 234.3,478.0 234.8,478.1C235.3,478.2 235.8,478.3 236.3,478.4C236.8,478.5 237.3,478.6 237.8,478.7C238.3,478.7 238.8,478.8 239.3,478.9C239.8,478.9 240.6,479.0 240.8,479.0" stroke="#1c1c1c" stroke-width="2.7" fill="none" stroke-linecap="round" stroke-linejoin="round"/>
<line x1="50.05" y1="479.50" x2="249.00" y2="479.50" stroke="#bcbcbc" stroke-width="1"/>
<rect x="50.05" y="303.60" width="198.95" height="182.35" fill="none" stroke="#1c1c1c" stroke-width="1.5"/>
<path d="M70.50,485.95V489.15M97.50,485.95V489.15M124.50,485.95V489.15M151.50,485.95V489.15M178.50,485.95V489.15M205.60,485.95V489.15M232.60,485.95V489.15M50.05,479.20H46.85M50.05,443.80H46.85M50.05,408.50H46.85M50.05,373.10H46.85M50.05,337.70H46.85" stroke="#1c1c1c" stroke-width="1.3" fill="none"/>
<text class="tk" x="71.30" y="501.55" text-anchor="middle">0</text>
<text class="tk" x="125.30" y="501.55" text-anchor="middle">1000</text>
<text class="tk" x="179.30" y="501.55" text-anchor="middle">2000</text>
<text class="tk" x="233.40" y="501.55" text-anchor="middle">3000</text>
<text class="tk" transform="translate(43.40,479.00) rotate(-90)" text-anchor="middle">0</text>
<text class="tk" transform="translate(43.40,407.80) rotate(-90)" text-anchor="middle">4e-04</text>
<text class="tk" transform="translate(43.40,337.20) rotate(-90)" text-anchor="middle">8e-04</text>
<text class="lb" x="146.90" y="525.25" text-anchor="middle">Loading rate (pN/s)</text>
<text class="lb" transform="translate(18.20,397.00) rotate(-90)" text-anchor="middle">Density</text></g>
<g><path d="M334.5,480.10V485.55M341.5,480.10V485.55M342.5,480.10V485.55M343.5,480.10V485.55M344.5,480.10V485.55M346.5,480.10V485.55M347.5,480.10V485.55M348.5,480.10V485.55M349.5,480.10V485.55M350.5,480.10V485.55M355.5,480.10V485.55M356.5,480.10V485.55M357.5,480.10V485.55M359.5,480.10V485.55M360.5,480.10V485.55M362.5,480.10V485.55M364.5,480.10V485.55M366.5,480.10V485.55M370.5,480.10V485.55M372.5,480.10V485.55M376.5,480.10V485.55M386.5,480.10V485.55M388.5,480.10V485.55M392.5,480.10V485.55M394.5,480.10V485.55M395.5,480.10V485.55M397.5,480.10V485.55M399.5,480.10V485.55M401.5,480.10V485.55M402.5,480.10V485.55M411.5,480.10V485.55M414.5,480.10V485.55M440.5,480.10V485.55M473.5,480.10V485.55" stroke="#262626" stroke-width="1" fill="none"/>
<path d="M311.3,479.2C311.6,479.1 312.3,479.1 312.8,479.0C313.3,479.0 313.8,478.9 314.3,478.8C314.8,478.8 315.3,478.7 315.8,478.6C316.3,478.6 316.8,478.5 317.3,478.4C317.8,478.4 318.3,478.3 318.8,478.2C319.3,478.1 319.8,478.0 320.3,477.7C320.8,477.5 321.3,477.3 321.8,476.9C322.3,476.4 322.8,475.9 323.3,475.1C323.8,474.4 324.3,473.4 324.8,472.3C325.3,471.1 325.8,469.7 326.3,468.1C326.8,466.5 327.3,464.7 327.8,462.8C328.3,460.9 328.8,458.9 329.3,456.8C329.8,454.8 330.3,452.7 330.8,450.6C331.3,448.4 331.8,446.3 332.3,443.8C332.8,441.3 333.3,438.8 333.8,435.6C334.3,432.4 334.8,428.9 335.3,424.8C335.8,420.6 336.3,415.7 336.8,410.6C337.3,405.5 337.8,399.5 338.3,393.9C338.8,388.2 339.3,382.1 339.8,376.6C340.3,371.1 340.8,365.7 341.3,361.0C341.8,356.2 342.3,351.9 342.8,348.0C343.3,344.1 343.8,340.7 344.3,337.4C344.8,334.1 345.3,331.1 345.8,328.3C346.3,325.5 346.8,322.7 347.3,320.4C347.8,318.0 348.3,315.9 348.8,314.3C349.3,312.7 349.8,311.5 350.3,310.7C350.8,310.0 351.3,309.8 351.8,309.9C352.3,310.0 352.8,310.5 353.3,311.2C353.8,312.0 354.3,313.0 354.8,314.3C355.3,315.7 355.8,317.3 356.3,319.3C356.8,321.3 357.3,323.6 357.8,326.2C358.3,328.8 358.8,331.7 359.3,334.7C359.8,337.6 360.3,340.8 360.8,343.9C361.3,346.9 361.8,350.0 362.3,353.0C362.8,356.0 363.3,359.0 363.8,361.9C364.3,364.8 364.8,367.6 365.3,370.5C365.8,373.3 366.3,376.1 366.8,378.8C367.3,381.5 367.8,384.2 368.3,386.7C368.8,389.3 369.3,391.8 369.8,394.2C370.3,396.6 370.8,398.9 371.3,401.1C371.8,403.3 372.3,405.4 372.8,407.4C373.3,409.3 373.8,411.1 374.3,412.7C374.8,414.3 375.3,415.7 375.8,416.9C376.3,418.0 376.8,419.0 377.3,419.7C377.8,420.4 378.3,420.9 378.8,421.2C379.3,421.4 379.8,421.5 380.3,421.3C380.8,421.1 381.3,420.8 381.8,420.2C382.3,419.6 382.8,418.9 383.3,418.0C383.8,417.1 384.3,416.0 384.8,414.8C385.3,413.6 385.8,412.3 386.3,410.8C386.8,409.4 387.3,407.9 387.8,406.4C388.3,404.9 388.8,403.3 389.3,401.9C389.8,400.6 390.3,399.3 390.8,398.2C391.3,397.2 391.8,396.4 392.3,395.8C392.8,395.2 393.3,394.9 393.8,394.7C394.3,394.5 394.8,394.5 395.3,394.7C395.8,394.9 396.3,395.2 396.8,395.8C397.3,396.4 397.8,397.1 398.3,398.1C398.8,399.2 399.3,400.5 399.8,402.0C400.3,403.6 400.8,405.4 401.3,407.3C401.8,409.3 402.3,411.4 402.8,413.5C403.3,415.5 403.8,417.7 404.3,419.6C404.8,421.6 405.3,423.5 405.8,425.3C406.3,427.1 406.8,428.7 407.3,430.4C407.8,432.0 408.3,433.5 408.8,435.0C409.3,436.5 409.8,438.0 410.3,439.5C410.8,441.0 411.3,442.4 411.8,443.9C412.3,445.3 412.8,446.8 413.3,448.2C413.8,449.6 414.3,451.0 414.8,452.4C415.3,453.7 415.8,455.1 416.3,456.3C416.8,457.6 417.3,458.8 417.8,459.9C418.3,461.1 418.8,462.2 419.3,463.2C419.8,464.2 420.3,465.1 420.8,466.0C421.3,466.9 421.8,467.6 422.3,468.3C422.8,469.0 423.3,469.7 423.8,470.2C424.3,470.7 424.8,471.2 425.3,471.5C425.8,471.9 426.3,472.1 426.8,472.3C427.3,472.5 427.8,472.7 428.3,472.7C428.8,472.8 429.3,472.7 429.8,472.7C430.3,472.6 430.8,472.5 431.3,472.3C431.8,472.2 432.3,471.9 432.8,471.7C433.3,471.5 433.8,471.2 434.3,470.9C434.8,470.7 435.3,470.4 435.8,470.1C436.3,469.9 436.8,469.7 437.3,469.5C437.8,469.3 438.3,469.2 438.8,469.1C439.3,469.0 439.8,469.0 440.3,469.1C440.8,469.1 441.3,469.2 441.8,469.4C442.3,469.6 442.8,469.8 443.3,470.1C443.8,470.4 444.3,470.8 444.8,471.1C445.3,471.5 445.8,471.9 446.3,472.3C446.8,472.7 447.3,473.1 447.8,473.4C448.3,473.8 448.8,474.1 449.3,474.5C449.8,474.8 450.3,475.1 450.8,475.4C451.3,475.7 451.8,476.0 452.3,476.3C452.8,476.5 453.3,476.8 453.8,477.0C454.3,477.2 454.8,477.4 455.3,477.5C455.8,477.6 456.3,477.7 456.8,477.7C457.3,477.7 457.8,477.6 458.3,477.5C458.8,477.4 459.3,477.2 459.8,476.9C460.3,476.7 460.8,476.4 461.3,476.0C461.8,475.7 462.3,475.3 462.8,474.9C463.3,474.5 463.8,474.1 464.3,473.7C464.8,473.3 465.3,472.9 465.8,472.5C466.3,472.1 466.8,471.8 467.3,471.5C467.8,471.1 468.3,470.8 468.8,470.5C469.3,470.3 469.8,470.0 470.3,469.8C470.8,469.6 471.3,469.4 471.8,469.3C472.3,469.1 472.8,469.1 473.3,469.0C473.8,469.0 474.3,469.0 474.8,469.1C475.3,469.1 475.8,469.2 476.3,469.4C476.8,469.5 477.3,469.7 477.8,469.9C478.3,470.2 478.8,470.4 479.3,470.7C479.8,471.0 480.3,471.4 480.8,471.8C481.3,472.1 481.8,472.6 482.3,473.0C482.8,473.4 483.3,473.8 483.8,474.3C484.3,474.7 484.8,475.1 485.3,475.5C485.8,475.8 486.3,476.2 486.8,476.5C487.3,476.8 487.8,477.1 488.3,477.4C488.8,477.6 489.3,477.8 489.8,478.0C490.3,478.2 490.8,478.4 491.3,478.5C491.8,478.7 492.3,478.8 492.8,478.9C493.3,479.0 493.8,479.0 494.3,479.1C494.8,479.2 495.6,479.2 495.8,479.2" stroke="#1c1c1c" stroke-width="2.7" fill="none" stroke-linecap="round" stroke-linejoin="round"/>
<line x1="305.00" y1="479.50" x2="503.95" y2="479.50" stroke="#bcbcbc" stroke-width="1"/>
<rect x="305.00" y="303.60" width="198.95" height="182.35" fill="none" stroke="#1c1c1c" stroke-width="1.5"/>
<path d="M320.50,485.95V489.15M374.00,485.95V489.15M427.25,485.95V489.15M480.50,485.95V489.15M305.00,479.10H301.80M305.00,440.75H301.80M305.00,402.40H301.80M305.00,364.05H301.80M305.00,325.70H301.80" stroke="#1c1c1c" stroke-width="1.3" fill="none"/>
<text class="tk" x="321.30" y="501.55" text-anchor="middle">0</text>
<text class="tk" x="374.80" y="501.55" text-anchor="middle">5000</text>
<text class="tk" x="428.05" y="501.55" text-anchor="middle">10000</text>
<text class="tk" x="481.30" y="501.55" text-anchor="middle">15000</text>
<text class="tk" transform="translate(297.65,479.00) rotate(-90)" text-anchor="middle">0</text>
<text class="tk" transform="translate(297.65,402.20) rotate(-90)" text-anchor="middle">0.010</text>
<text class="tk" transform="translate(297.65,323.90) rotate(-90)" text-anchor="middle">0.020</text>
<text class="lb" x="404.10" y="525.25" text-anchor="middle">Loading rate (pN/s)</text></g>
<g><path d="M597.5,480.10V485.55M599.5,480.10V485.55M601.5,480.10V485.55M609.5,480.10V485.55M610.5,480.10V485.55M612.5,480.10V485.55M613.5,480.10V485.55M615.5,480.10V485.55M616.5,480.10V485.55M619.5,480.10V485.55M621.5,480.10V485.55M623.5,480.10V485.55M624.5,480.10V485.55M626.5,480.10V485.55M627.5,480.10V485.55M629.5,480.10V485.55M630.5,480.10V485.55M632.5,480.10V485.55M634.5,480.10V485.55M635.5,480.10V485.55M637.5,480.10V485.55M638.5,480.10V485.55M640.5,480.10V485.55M642.5,480.10V485.55M645.5,480.10V485.55M651.5,480.10V485.55M660.5,480.10V485.55M675.5,480.10V485.55M697.5,480.10V485.55M699.5,480.10V485.55M715.5,480.10V485.55M729.5,480.10V485.55" stroke="#262626" stroke-width="1" fill="none"/>
<path d="M569.8,479.2C570.0,479.2 570.8,479.1 571.3,479.1C571.8,479.0 572.3,479.0 572.8,479.0C573.3,478.9 573.8,478.9 574.3,478.8C574.8,478.7 575.3,478.6 575.8,478.5C576.3,478.4 576.8,478.2 577.3,478.1C577.8,477.9 578.3,477.6 578.8,477.4C579.3,477.1 579.8,476.7 580.3,476.4C580.8,476.0 581.3,475.6 581.8,475.1C582.3,474.6 582.8,474.1 583.3,473.5C583.8,472.9 584.3,472.2 584.8,471.5C585.3,470.8 585.8,470.0 586.3,469.1C586.8,468.2 587.3,467.3 587.8,466.2C588.3,465.1 588.8,463.8 589.3,462.5C589.8,461.2 590.3,459.7 590.8,458.2C591.3,456.6 591.8,455.0 592.3,453.2C592.8,451.5 593.3,449.7 593.8,447.9C594.3,446.0 594.8,444.1 595.3,442.2C595.8,440.2 596.3,438.2 596.8,436.0C597.3,433.8 597.8,431.6 598.3,429.2C598.8,426.8 599.3,424.3 599.8,421.6C600.3,419.0 600.8,416.2 601.3,413.4C601.8,410.5 602.3,407.6 602.8,404.7C603.3,401.7 603.8,398.8 604.3,395.9C604.8,393.0 605.3,390.1 605.8,387.3C606.3,384.6 606.8,381.8 607.3,379.2C607.8,376.6 608.3,374.0 608.8,371.5C609.3,369.0 609.8,366.6 610.3,364.1C610.8,361.7 611.3,359.4 611.8,357.0C612.3,354.6 612.8,352.3 613.3,349.9C613.8,347.6 614.3,345.2 614.8,342.9C615.3,340.6 615.8,338.2 616.3,336.0C616.8,333.8 617.3,331.6 617.8,329.5C618.3,327.5 618.8,325.5 619.3,323.8C619.8,322.0 620.3,320.4 620.8,319.0C621.3,317.6 621.8,316.4 622.3,315.4C622.8,314.4 623.3,313.6 623.8,312.9C624.3,312.3 624.8,311.8 625.3,311.5C625.8,311.2 626.3,311.0 626.8,311.0C627.3,311.0 627.8,311.1 628.3,311.4C628.8,311.8 629.3,312.3 629.8,313.2C630.3,314.0 630.8,315.2 631.3,316.6C631.8,318.0 632.3,319.8 632.8,321.7C633.3,323.6 633.8,325.9 634.3,328.2C634.8,330.5 635.3,333.0 635.8,335.5C636.3,338.0 636.8,340.6 637.3,343.2C637.8,345.9 638.3,348.6 638.8,351.6C639.3,354.5 639.8,357.5 640.3,360.7C640.8,364.0 641.3,367.4 641.8,370.8C642.3,374.3 642.8,377.9 643.3,381.4C643.8,384.8 644.3,388.4 644.8,391.7C645.3,395.0 645.8,398.2 646.3,401.2C646.8,404.3 647.3,407.1 647.8,409.9C648.3,412.7 648.8,415.4 649.3,418.0C649.8,420.6 650.3,423.2 650.8,425.7C651.3,428.1 651.8,430.6 652.3,432.8C652.8,435.0 653.3,437.1 653.8,439.0C654.3,440.9 654.8,442.6 655.3,444.1C655.8,445.6 656.3,446.9 656.8,448.1C657.3,449.3 657.8,450.2 658.3,451.2C658.8,452.2 659.3,453.0 659.8,453.9C660.3,454.7 660.8,455.6 661.3,456.4C661.8,457.2 662.3,457.9 662.8,458.7C663.3,459.4 663.8,460.0 664.3,460.6C664.8,461.2 665.3,461.7 665.8,462.1C666.3,462.6 666.8,462.9 667.3,463.3C667.8,463.6 668.3,463.9 668.8,464.2C669.3,464.4 669.8,464.7 670.3,465.0C670.8,465.2 671.3,465.5 671.8,465.7C672.3,465.9 672.8,466.1 673.3,466.3C673.8,466.5 674.3,466.7 674.8,466.9C675.3,467.1 675.8,467.2 676.3,467.4C676.8,467.5 677.3,467.6 677.8,467.8C678.3,467.9 678.8,468.0 679.3,468.1C679.8,468.2 680.3,468.3 680.8,468.4C681.3,468.5 681.8,468.5 682.3,468.5C682.8,468.4 683.3,468.4 683.8,468.2C684.3,468.1 684.8,467.9 685.3,467.6C685.8,467.4 686.3,467.1 686.8,466.7C687.3,466.3 687.8,465.9 688.3,465.5C688.8,465.1 689.3,464.6 689.8,464.1C690.3,463.7 690.8,463.2 691.3,462.8C691.8,462.4 692.3,461.9 692.8,461.5C693.3,461.2 693.8,460.8 694.3,460.5C694.8,460.2 695.3,460.0 695.8,459.7C696.3,459.5 696.8,459.4 697.3,459.2C697.8,459.1 698.3,459.1 698.8,459.0C699.3,459.0 699.8,459.0 700.3,459.1C700.8,459.1 701.3,459.2 701.8,459.4C702.3,459.5 702.8,459.7 703.3,459.9C703.8,460.1 704.3,460.3 704.8,460.6C705.3,460.8 705.8,461.1 706.3,461.4C706.8,461.6 707.3,461.9 707.8,462.1C708.3,462.4 708.8,462.6 709.3,462.9C709.8,463.1 710.3,463.3 710.8,463.5C711.3,463.7 711.8,463.9 712.3,464.0C712.8,464.2 713.3,464.3 713.8,464.5C714.3,464.6 714.8,464.7 715.3,464.8C715.8,464.9 716.3,465.0 716.8,465.0C717.3,465.1 717.8,465.2 718.3,465.2C718.8,465.3 719.3,465.4 719.8,465.5C720.3,465.5 720.8,465.6 721.3,465.7C721.8,465.8 722.3,465.9 722.8,466.0C723.3,466.1 723.8,466.2 724.3,466.3C724.8,466.4 725.3,466.6 725.8,466.7C726.3,466.9 726.8,467.0 727.3,467.2C727.8,467.4 728.3,467.6 728.8,467.8C729.3,468.1 729.8,468.3 730.3,468.6C730.8,468.9 731.3,469.2 731.8,469.6C732.3,469.9 732.8,470.3 733.3,470.6C733.8,471.0 734.3,471.4 734.8,471.8C735.3,472.1 735.8,472.5 736.3,472.9C736.8,473.3 737.3,473.6 737.8,474.0C738.3,474.3 738.8,474.7 739.3,475.0C739.8,475.3 740.3,475.6 740.8,475.9C741.3,476.2 741.8,476.4 742.3,476.7C742.8,476.9 743.3,477.1 743.8,477.3C744.3,477.5 744.8,477.6 745.3,477.8C745.8,477.9 746.3,478.1 746.8,478.2C747.3,478.3 747.8,478.4 748.3,478.5C748.8,478.6 749.3,478.6 749.8,478.7C750.3,478.8 750.8,478.9 751.3,478.9C751.8,479.0 752.3,479.0 752.8,479.1C753.3,479.1 753.8,479.2 754.3,479.2C754.8,479.2 755.5,479.3 755.8,479.3" stroke="#1c1c1c" stroke-width="2.7" fill="none" stroke-linecap="round" stroke-linejoin="round"/>
<line x1="564.00" y1="479.50" x2="762.95" y2="479.50" stroke="#bcbcbc" stroke-width="1"/>
<rect x="564.00" y="303.60" width="198.95" height="182.35" fill="none" stroke="#1c1c1c" stroke-width="1.5"/>
<path d="M577.50,485.95V489.15M612.75,485.95V489.15M647.75,485.95V489.15M683.25,485.95V489.15M718.40,485.95V489.15M754.40,485.95V489.15M564.00,479.30H560.80M564.00,433.20H560.80M564.00,387.00H560.80M564.00,340.80H560.80" stroke="#1c1c1c" stroke-width="1.3" fill="none"/>
<text class="tk" x="578.30" y="501.55" text-anchor="middle">0</text>
<text class="tk" x="649.05" y="501.55" text-anchor="middle">20000</text>
<text class="tk" x="719.20" y="501.55" text-anchor="middle">40000</text>
<text class="tk" transform="translate(555.65,478.80) rotate(-90)" text-anchor="middle">0</text>
<text class="tk" transform="translate(555.65,434.00) rotate(-90)" text-anchor="middle">2e-05</text>
<text class="tk" transform="translate(555.65,387.30) rotate(-90)" text-anchor="middle">4e-05</text>
<text class="tk" transform="translate(555.65,341.20) rotate(-90)" text-anchor="middle">6e-05</text>
<text class="lb" x="676.60" y="525.25" text-anchor="middle">Loading rate (pN/s)</text></g>
<g><path d="M843.5,480.10V485.55M845.5,480.10V485.55M848.5,480.10V485.55M850.5,480.10V485.55M853.5,480.10V485.55M858.5,480.10V485.55M859.5,480.10V485.55M860.5,480.10V485.55M861.5,480.10V485.55M863.5,480.10V485.55M864.5,480.10V485.55M865.5,480.10V485.55M866.5,480.10V485.55M867.5,480.10V485.55M869.5,480.10V485.55M871.5,480.10V485.55M872.5,480.10V485.55M874.5,480.10V485.55M875.5,480.10V485.55M880.5,480.10V485.55M882.5,480.10V485.55M885.5,480.10V485.55M889.5,480.10V485.55M891.5,480.10V485.55M892.5,480.10V485.55M898.5,480.10V485.55M915.5,480.10V485.55M919.5,480.10V485.55M937.5,480.10V485.55M985.5,480.10V485.55" stroke="#262626" stroke-width="1" fill="none"/>
<path d="M820.6,479.2C820.9,479.2 821.6,479.1 822.1,479.0C822.6,479.0 823.1,478.9 823.6,478.8C824.1,478.7 824.6,478.5 825.1,478.4C825.6,478.2 826.1,478.1 826.6,477.8C827.1,477.6 827.6,477.4 828.1,477.1C828.6,476.7 829.1,476.4 829.6,475.9C830.1,475.5 830.6,474.9 831.1,474.3C831.6,473.6 832.1,472.8 832.6,471.8C833.1,470.9 833.6,469.8 834.1,468.4C834.6,467.1 835.1,465.6 835.6,463.9C836.1,462.3 836.6,460.4 837.1,458.3C837.6,456.3 838.1,454.1 838.6,451.8C839.1,449.4 839.6,446.9 840.1,444.4C840.6,441.8 841.1,439.1 841.6,436.4C842.1,433.6 842.6,430.8 843.1,427.9C843.6,425.1 844.1,422.2 844.6,419.4C845.1,416.5 845.6,413.7 846.1,410.8C846.6,408.0 847.1,405.2 847.6,402.3C848.1,399.4 848.6,396.5 849.1,393.2C849.6,390.0 850.1,386.6 850.6,382.9C851.1,379.1 851.6,375.0 852.1,370.7C852.6,366.4 853.1,361.6 853.6,357.0C854.1,352.4 854.6,347.4 855.1,343.0C855.6,338.7 856.1,334.3 856.6,330.7C857.1,327.1 857.6,323.9 858.1,321.4C858.6,318.8 859.1,316.9 859.6,315.4C860.1,313.8 860.6,312.9 861.1,312.1C861.6,311.3 862.1,310.9 862.6,310.8C863.1,310.6 863.6,310.6 864.1,311.1C864.6,311.7 865.1,312.4 865.6,313.8C866.1,315.3 866.6,317.2 867.1,319.6C867.6,322.0 868.1,325.1 868.6,328.3C869.1,331.6 869.6,335.5 870.1,339.3C870.6,343.1 871.1,347.2 871.6,351.0C872.1,354.8 872.6,358.7 873.1,362.3C873.6,365.9 874.1,369.3 874.6,372.5C875.1,375.7 875.6,378.7 876.1,381.4C876.6,384.1 877.1,386.6 877.6,388.8C878.1,391.0 878.6,393.0 879.1,394.6C879.6,396.3 880.1,397.6 880.6,398.7C881.1,399.8 881.6,400.6 882.1,401.4C882.6,402.1 883.1,402.6 883.6,403.2C884.1,403.7 884.6,404.1 885.1,404.7C885.6,405.2 886.1,405.7 886.6,406.3C887.1,406.9 887.6,407.5 888.1,408.3C888.6,409.1 889.1,409.9 889.6,410.9C890.1,411.9 890.6,413.0 891.1,414.4C891.6,415.7 892.1,417.3 892.6,419.1C893.1,420.8 893.6,422.9 894.1,425.0C894.6,427.1 895.1,429.5 895.6,431.7C896.1,434.0 896.6,436.5 897.1,438.7C897.6,441.0 898.1,443.2 898.6,445.3C899.1,447.3 899.6,449.2 900.1,451.0C900.6,452.7 901.1,454.3 901.6,455.7C902.1,457.1 902.6,458.4 903.1,459.5C903.6,460.6 904.1,461.5 904.6,462.3C905.1,463.1 905.6,463.6 906.1,464.0C906.6,464.4 907.1,464.6 907.6,464.6C908.1,464.6 908.6,464.3 909.1,464.0C909.6,463.7 910.1,463.2 910.6,462.7C911.1,462.2 911.6,461.6 912.1,461.1C912.6,460.6 913.1,460.1 913.6,459.8C914.1,459.4 914.6,459.1 915.1,458.9C915.6,458.7 916.1,458.6 916.6,458.6C917.1,458.6 917.6,458.7 918.1,458.9C918.6,459.0 919.1,459.3 919.6,459.6C920.1,459.9 920.6,460.3 921.1,460.7C921.6,461.2 922.1,461.7 922.6,462.2C923.1,462.7 923.6,463.3 924.1,463.8C924.6,464.3 925.1,464.9 925.6,465.4C926.1,465.9 926.6,466.3 927.1,466.7C927.6,467.1 928.1,467.4 928.6,467.6C929.1,467.9 929.6,468.0 930.1,468.1C930.6,468.2 931.1,468.3 931.6,468.4C932.1,468.4 932.6,468.4 933.1,468.5C933.6,468.5 934.1,468.5 934.6,468.6C935.1,468.6 935.6,468.6 936.1,468.7C936.6,468.7 937.1,468.7 937.6,468.8C938.1,468.9 938.6,469.0 939.1,469.1C939.6,469.2 940.1,469.4 940.6,469.6C941.1,469.9 941.6,470.2 942.1,470.6C942.6,470.9 943.1,471.4 943.6,471.8C944.1,472.3 944.6,472.9 945.1,473.4C945.6,473.9 946.1,474.5 946.6,475.0C947.1,475.5 947.6,476.0 948.1,476.4C948.6,476.8 949.1,477.2 949.6,477.5C950.1,477.8 950.6,478.1 951.1,478.3C951.6,478.5 952.1,478.7 952.6,478.8C953.1,479.0 953.6,479.1 954.1,479.1C954.6,479.2 955.1,479.2 955.6,479.3C956.1,479.3 956.6,479.3 957.1,479.4C957.6,479.4 958.1,479.4 958.6,479.4C959.1,479.4 959.6,479.4 960.1,479.4C960.6,479.4 961.1,479.4 961.6,479.4C962.1,479.4 962.6,479.4 963.1,479.4C963.6,479.4 964.1,479.3 964.6,479.3C965.1,479.3 965.6,479.3 966.1,479.2C966.6,479.2 967.1,479.1 967.6,479.0C968.1,478.9 968.6,478.8 969.1,478.6C969.6,478.5 970.1,478.3 970.6,478.0C971.1,477.7 971.6,477.4 972.1,477.1C972.6,476.7 973.1,476.3 973.6,475.8C974.1,475.4 974.6,474.9 975.1,474.4C975.6,473.9 976.1,473.3 976.6,472.8C977.1,472.3 977.6,471.8 978.1,471.3C978.6,470.9 979.1,470.4 979.6,470.1C980.1,469.7 980.6,469.4 981.1,469.1C981.6,468.9 982.1,468.7 982.6,468.6C983.1,468.4 983.6,468.4 984.1,468.4C984.6,468.4 985.1,468.4 985.6,468.5C986.1,468.6 986.6,468.8 987.1,469.1C987.6,469.3 988.1,469.6 988.6,470.0C989.1,470.3 989.6,470.8 990.1,471.2C990.6,471.6 991.1,472.1 991.6,472.6C992.1,473.0 992.6,473.5 993.1,474.0C993.6,474.4 994.1,474.9 994.6,475.2C995.1,475.6 995.6,476.0 996.1,476.3C996.6,476.6 997.1,476.9 997.6,477.1C998.1,477.4 998.6,477.6 999.1,477.8C999.6,478.0 1000.1,478.1 1000.6,478.3C1001.1,478.4 1001.6,478.6 1002.1,478.7C1002.6,478.8 1003.1,478.9 1003.6,478.9C1004.1,479.0 1004.9,479.1 1005.1,479.1" stroke="#1c1c1c" stroke-width="2.7" fill="none" stroke-linecap="round" stroke-linejoin="round"/>
<line x1="814.55" y1="479.50" x2="1013.50" y2="479.50" stroke="#bcbcbc" stroke-width="1"/>
<rect x="814.55" y="303.60" width="198.95" height="182.35" fill="none" stroke="#1c1c1c" stroke-width="1.5"/>
<path d="M830.00,485.95V489.15M859.60,485.95V489.15M889.20,485.95V489.15M918.75,485.95V489.15M948.30,485.95V489.15M977.90,485.95V489.15M1007.50,485.95V489.15M814.55,479.30H811.35M814.55,420.90H811.35M814.55,362.60H811.35M814.55,304.20H811.35" stroke="#1c1c1c" stroke-width="1.3" fill="none"/>
<text class="tk" x="830.10" y="501.55" text-anchor="middle">0</text>
<text class="tk" x="889.30" y="501.55" text-anchor="middle">100000</text>
<text class="tk" x="949.10" y="501.55" text-anchor="middle">200000</text>
<text class="tk" transform="translate(807.65,478.90) rotate(-90)" text-anchor="middle">0</text>
<text class="tk" transform="translate(807.65,421.00) rotate(-90)" text-anchor="middle">5e-06</text>
<text class="tk" transform="translate(807.65,364.00) rotate(-90)" text-anchor="middle">1e-05</text>
<text class="lb" x="926.10" y="525.25" text-anchor="middle">Loading rate (pN/s)</text></g>
</svg>
</body>
</html>
